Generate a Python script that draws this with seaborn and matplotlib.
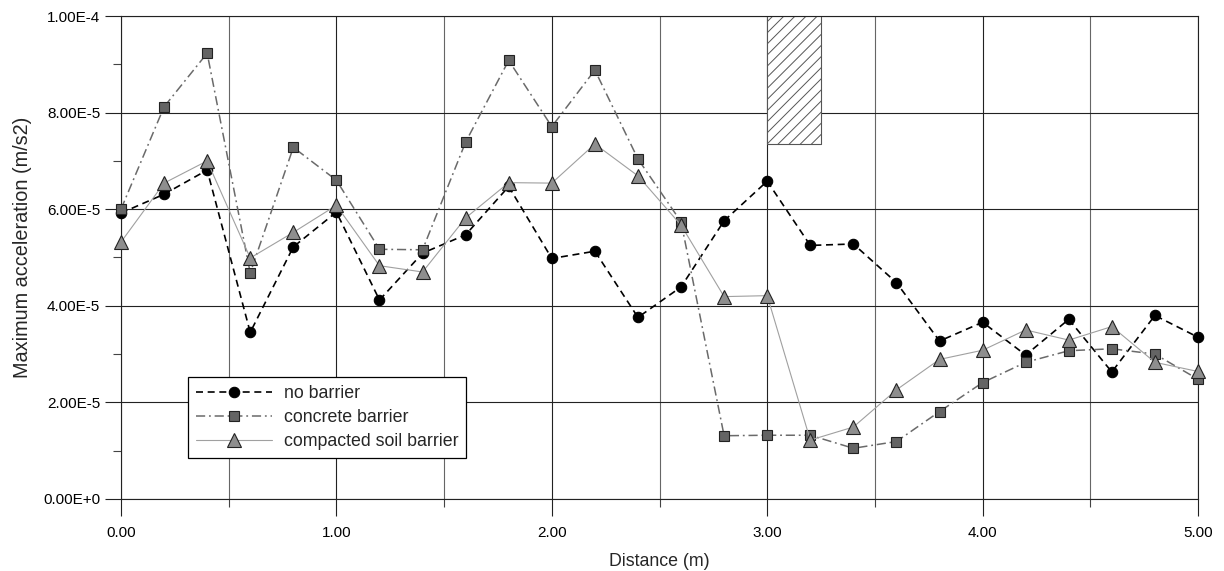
import numpy as np
import pandas as pd
import matplotlib
matplotlib.use("Agg")
import matplotlib.pyplot as plt
import seaborn as sns
from matplotlib.ticker import FixedLocator, FixedFormatter, MultipleLocator, NullFormatter

# ---------------- data ----------------
distance = [0.0, 0.2, 0.4, 0.6, 0.8, 1.0, 1.2, 1.4, 1.6, 1.8, 2.0, 2.2, 2.4,
            2.6, 2.8, 3.0, 3.2, 3.4, 3.6, 3.8, 4.0, 4.2, 4.4, 4.6, 4.8, 5.0]

no_barrier = [5.92e-5, 6.31e-5, 6.81e-5, 3.45e-5, 5.22e-5, 5.94e-5, 4.12e-5, 5.09e-5,
              5.47e-5, 6.47e-5, 4.98e-5, 5.13e-5, 3.76e-5, 4.39e-5, 5.76e-5, 6.58e-5,
              5.25e-5, 5.28e-5, 4.48e-5, 3.27e-5, 3.66e-5, 2.98e-5, 3.72e-5, 2.63e-5,
              3.80e-5, 3.35e-5]

concrete_barrier = [6.00e-5, 8.12e-5, 9.23e-5, 4.68e-5, 7.28e-5, 6.60e-5, 5.17e-5, 5.16e-5,
                    7.39e-5, 9.08e-5, 7.71e-5, 8.88e-5, 7.04e-5, 5.74e-5, 1.31e-5, 1.32e-5,
                    1.32e-5, 1.05e-5, 1.19e-5, 1.81e-5, 2.41e-5, 2.83e-5, 3.07e-5, 3.11e-5,
                    3.00e-5, 2.48e-5]

soil_barrier = [5.32e-5, 6.54e-5, 7.00e-5, 4.99e-5, 5.52e-5, 6.08e-5, 4.83e-5, 4.70e-5,
                5.82e-5, 6.55e-5, 6.54e-5, 7.35e-5, 6.69e-5, 5.67e-5, 4.19e-5, 4.21e-5,
                1.22e-5, 1.49e-5, 2.26e-5, 2.89e-5, 3.08e-5, 3.50e-5, 3.29e-5, 3.57e-5,
                2.83e-5, 2.64e-5]

series_labels = ["no barrier", "concrete barrier", "compacted soil barrier"]

# barrier location (hatched block)
barrier_x = [3.0, 3.25]
barrier_y = [7.36e-5, 1.0e-4]

x_ticks = [0, 1, 2, 3, 4, 5]
x_tick_labels = ["0.00", "1.00", "2.00", "3.00", "4.00", "5.00"]
y_ticks = [0, 2e-5, 4e-5, 6e-5, 8e-5, 1e-4]
y_tick_labels = ["0.00E+0", "2.00E-5", "4.00E-5", "6.00E-5", "8.00E-5", "1.00E-4"]

# ---------------- style ----------------
sns.set_style("white")
plt.rcParams["font.family"] = ["Liberation Sans", "DejaVu Sans"]
plt.rcParams["hatch.linewidth"] = 0.7

fig = plt.figure(figsize=(12.24, 5.71), dpi=100)
ax = fig.add_axes([121 / 1224, 1 - 499 / 571, (1198 - 121) / 1224, (499 - 16) / 571])

df = pd.DataFrame({"distance": distance, "no": no_barrier,
                   "concrete": concrete_barrier, "soil": soil_barrier})

ax.set_axisbelow(True)

sns.lineplot(data=df, x="distance", y="no", ax=ax, label=series_labels[0],
             color="black", linewidth=1.2, linestyle=(0, (4.2, 2.8)),
             marker="o", markersize=7.5, markerfacecolor="black",
             markeredgecolor="black", markeredgewidth=0.8,
             errorbar=None, sort=False, clip_on=False, zorder=3)
sns.lineplot(data=df, x="distance", y="concrete", ax=ax, label=series_labels[1],
             color="#6a6a6a", linewidth=1.1, linestyle=(0, (6.0, 2.5, 1.2, 2.5)),
             marker="s", markersize=7.0, markerfacecolor="#646464",
             markeredgecolor="#222222", markeredgewidth=0.8,
             errorbar=None, sort=False, clip_on=False, zorder=4)
sns.lineplot(data=df, x="distance", y="soil", ax=ax, label=series_labels[2],
             color="#a0a0a0", linewidth=0.8, linestyle="-",
             marker="^", markersize=10.5, markerfacecolor="#8e8e8e",
             markeredgecolor="#222222", markeredgewidth=0.8,
             errorbar=None, sort=False, clip_on=False, zorder=5)

# hatched barrier block
ax.fill_between(barrier_x, barrier_y[0], barrier_y[1], facecolor="white",
                edgecolor="#555555", hatch="///", linewidth=0.8, zorder=2)

# axes limits and ticks
ax.set_xlim(0, 5)
ax.set_ylim(0, 1e-4)
ax.xaxis.set_major_locator(FixedLocator(x_ticks))
ax.xaxis.set_major_formatter(FixedFormatter(x_tick_labels))
ax.xaxis.set_minor_locator(MultipleLocator(0.5))
ax.xaxis.set_minor_formatter(NullFormatter())
ax.yaxis.set_major_locator(FixedLocator(y_ticks))
ax.yaxis.set_major_formatter(FixedFormatter(y_tick_labels))
ax.yaxis.set_minor_locator(MultipleLocator(1e-5))
ax.yaxis.set_minor_formatter(NullFormatter())

ax.tick_params(axis="both", which="major", direction="out", length=11.5, width=0.8,
               color="#222222", labelsize=11, pad=3.5, labelcolor="black")
ax.tick_params(axis="both", which="minor", direction="out", length=5.8, width=0.8,
               color="#444444")
ax.tick_params(axis="x", which="major", length=12.2, pad=7)
ax.tick_params(axis="both", which="both", bottom=True, left=True, top=False, right=False)

ax.grid(True, which="major", axis="both", color="#222222", linewidth=0.8)
ax.grid(True, which="minor", axis="x", color="#666666", linewidth=0.8)

for s in ax.spines.values():
    s.set_visible(True)
    s.set_color("#222222")
    s.set_linewidth(0.8)

ax.set_xlabel("Distance (m)", fontsize=12.8, labelpad=9.5)
ax.set_ylabel("Maximum acceleration (m/s2)", fontsize=14.3)
ax.yaxis.set_label_coords(-0.083, 0.522)

leg = ax.legend(loc="lower left", bbox_to_anchor=(0.062, 0.085), borderaxespad=0,
                fontsize=12.8, frameon=True, fancybox=False, edgecolor="black",
                handlelength=4.3, handletextpad=0.65, labelspacing=0.4,
                borderpad=0.45, framealpha=1)
leg.get_frame().set_linewidth(0.9)

fig.savefig("out.png", dpi=100, facecolor="white")
